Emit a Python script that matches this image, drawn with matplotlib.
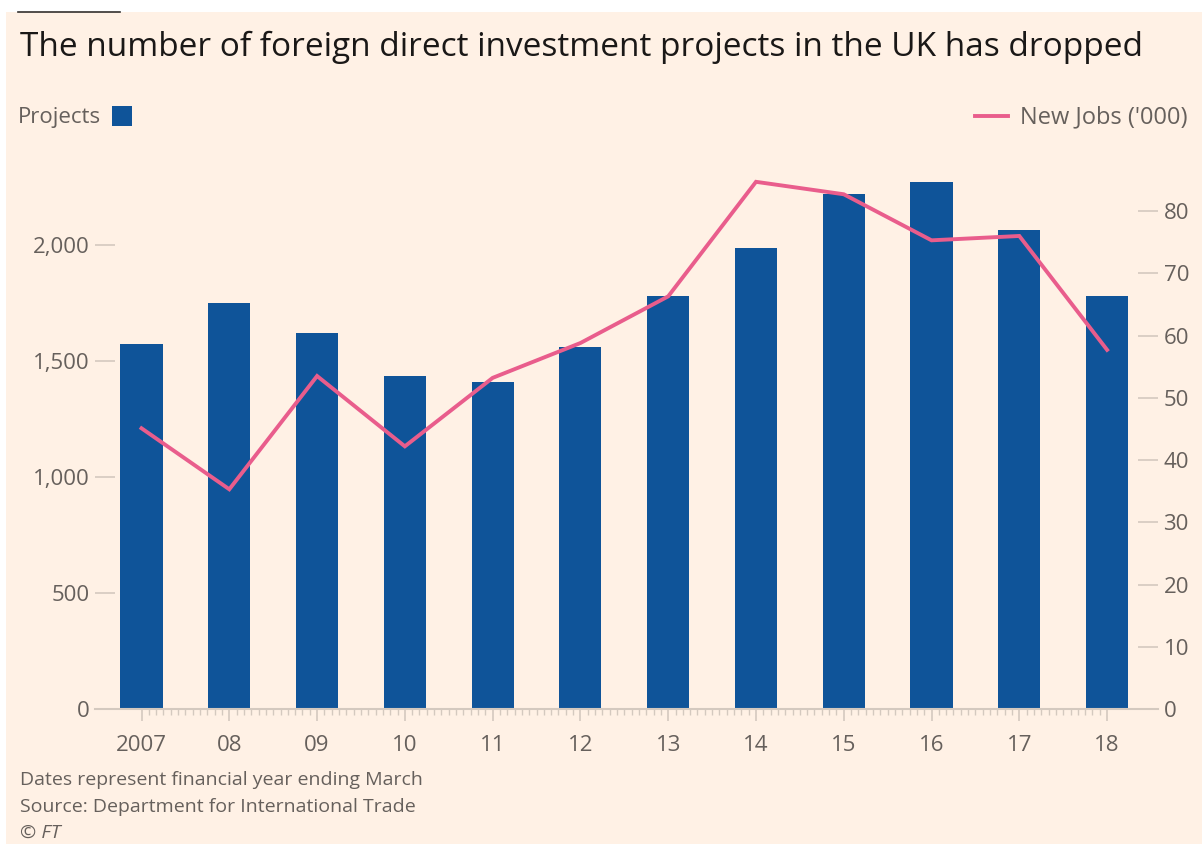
import numpy as np
import matplotlib.pyplot as plt
from matplotlib.ticker import FuncFormatter, MultipleLocator

years = ["2007", "08", "09", "10", "11", "12", "13", "14", "15", "16", "17", "18"]
projects = [1573, 1750, 1621, 1435, 1409, 1560, 1780, 1987, 2220, 2272, 2065, 1780]
new_jobs = [45.1, 35.3, 53.5, 42.2, 53.2, 58.8, 66.3, 84.7, 82.7, 75.3, 76.0, 57.7]

bg = "#fff1e5"
blue = "#0f5499"
pink = "#e95d8c"
grey = "#66605c"
tickc = "#d4c9bf"

plt.rcParams['font.family'] = ['Open Sans', 'DejaVu Sans']

fig = plt.figure(figsize=(12.02, 8.44), dpi=100, facecolor="white")
# pink panel (white strip on top like the FT frame)
fig.patches.append(plt.Rectangle((6 / 1202, 0), 1, 1 - 12 / 844, transform=fig.transFigure,
                                 facecolor=bg, edgecolor="none", zorder=-10))
fig.add_artist(plt.Line2D([18 / 1202, 120 / 1202], [1 - 12 / 844, 1 - 12 / 844],
                          transform=fig.transFigure, color="#33302e", lw=1.2))

ax = fig.add_axes([95 / 1202, 135 / 844, (1158 - 95) / 1202, (709 - 165) / 844])
ax.set_facecolor("none")
x = np.arange(len(years))
ax.bar(x, projects, width=0.48, color=blue, zorder=2)
ax.set_xlim(-0.53, 11.58)
ax.set_ylim(0, 2345)

ax2 = ax.twinx()
ax2.plot(x, new_jobs, color=pink, lw=2.8, zorder=3, solid_joinstyle="miter")
ax2.set_ylim(0, 2345 / 26.83)

for a in (ax, ax2):
    for s in a.spines.values():
        s.set_visible(False)
ax.spines["bottom"].set_visible(True)
ax.spines["bottom"].set_color(tickc)
ax.spines["bottom"].set_linewidth(1.5)

ax.yaxis.set_major_locator(MultipleLocator(500))
ax.yaxis.set_major_formatter(FuncFormatter(lambda v, p: f"{int(v):,}"))
ax.tick_params(axis="y", direction="in", length=14.4, width=1.2, color=tickc,
               labelcolor=grey, labelsize=16, pad=4)
ax2.yaxis.set_major_locator(MultipleLocator(10))
ax2.tick_params(axis="y", direction="in", length=14.4, width=1.2, color=tickc,
                labelcolor=grey, labelsize=16, pad=4)

ax.set_xticks(x)
ax.set_xticklabels(years)
ax.set_xticks(np.arange(0, 11 + 1e-9, 1 / 12), minor=True)
ax.tick_params(axis="x", which="major", direction="out", length=8.6, width=1.2,
               color=tickc, labelcolor=grey, labelsize=16, pad=10)
ax.tick_params(axis="x", which="minor", direction="out", length=4.3, width=1.0, color=tickc)

fig.text(20 / 1202, 1 - 47 / 844, "The number of foreign direct investment projects in the UK has dropped",
         fontsize=24, color="#1a1817", va="center", ha="left")

fig.text(18 / 1202, 1 - 117 / 844, "Projects", fontsize=16, color=grey, va="center", ha="left")
fig.patches.append(plt.Rectangle((112 / 1202, 1 - 126 / 844), 20 / 1202, 20 / 844,
                                 transform=fig.transFigure, facecolor=blue, edgecolor="none"))
fig.text(1188 / 1202, 1 - 117 / 844, "New Jobs ('000)", fontsize=17, color=grey, va="center", ha="right")
fig.add_artist(plt.Line2D([975 / 1202, 1008 / 1202], [1 - 116 / 844, 1 - 116 / 844],
                          transform=fig.transFigure, color=pink, lw=2.8))

foot = ["Dates represent financial year ending March", "Source: Department for International Trade"]
for i, t in enumerate(foot):
    fig.text(20 / 1202, 1 - (780 + 27 * i) / 844, t, fontsize=14, color=grey, va="center", ha="left")
fig.text(20 / 1202, 1 - 833 / 844, "© FT", fontsize=14, color=grey, va="center", ha="left", style="italic")

fig.savefig("out.png", dpi=100, facecolor=fig.get_facecolor())
